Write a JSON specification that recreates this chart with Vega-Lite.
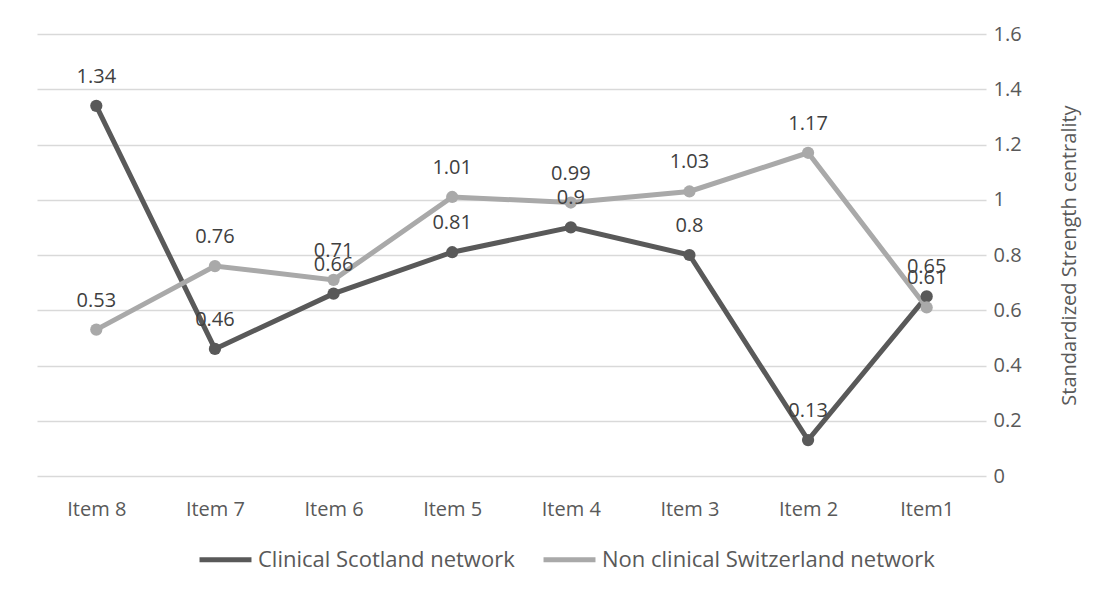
{
  "$schema": "https://vega.github.io/schema/vega-lite/v6.json",
  "autosize": {"type": "none"},
  "padding": {"left": 37, "top": 34, "right": 122, "bottom": 123},
  "width": 949,
  "height": 442,
  "background": "white",
  "data": {
    "values": [
      {"item": "Item 8", "series": "Clinical Scotland network", "value": 1.34},
      {"item": "Item 7", "series": "Clinical Scotland network", "value": 0.46},
      {"item": "Item 6", "series": "Clinical Scotland network", "value": 0.66},
      {"item": "Item 5", "series": "Clinical Scotland network", "value": 0.81},
      {"item": "Item 4", "series": "Clinical Scotland network", "value": 0.9},
      {"item": "Item 3", "series": "Clinical Scotland network", "value": 0.8},
      {"item": "Item 2", "series": "Clinical Scotland network", "value": 0.13},
      {"item": "Item1", "series": "Clinical Scotland network", "value": 0.65},
      {"item": "Item 8", "series": "Non clinical Switzerland network", "value": 0.53},
      {"item": "Item 7", "series": "Non clinical Switzerland network", "value": 0.76},
      {"item": "Item 6", "series": "Non clinical Switzerland network", "value": 0.71},
      {"item": "Item 5", "series": "Non clinical Switzerland network", "value": 1.01},
      {"item": "Item 4", "series": "Non clinical Switzerland network", "value": 0.99},
      {"item": "Item 3", "series": "Non clinical Switzerland network", "value": 1.03},
      {"item": "Item 2", "series": "Non clinical Switzerland network", "value": 1.17},
      {"item": "Item1", "series": "Non clinical Switzerland network", "value": 0.61}
    ]
  },
  "encoding": {
    "x": {
      "field": "item",
      "type": "nominal",
      "sort": null,
      "scale": {"type": "point", "padding": 0.5},
      "axis": {
        "title": null,
        "labelAngle": 0,
        "domain": false,
        "ticks": false,
        "grid": false,
        "labelPadding": 23,
        "labelFontSize": 20,
        "labelColor": "#595959"
      }
    },
    "y": {
      "field": "value",
      "type": "quantitative",
      "scale": {"domain": [0, 1.6], "nice": false},
      "axis": {
        "orient": "right",
        "values": [0, 0.2, 0.4, 0.6, 0.8, 1, 1.2, 1.4, 1.6],
        "format": "~g",
        "title": "Standardized Strength centrality",
        "titleFontSize": 20,
        "titleFontWeight": "normal",
        "titleColor": "#595959",
        "titleAngle": 270,
        "titlePadding": 58,
        "domain": false,
        "ticks": false,
        "labelPadding": 7,
        "labelFontSize": 20,
        "labelColor": "#595959",
        "gridColor": "#d9d9d9",
        "gridWidth": 1.5
      }
    },
    "color": {
      "field": "series",
      "type": "nominal",
      "scale": {
        "domain": ["Clinical Scotland network", "Non clinical Switzerland network"],
        "range": ["#595959", "#a9a9a9"]
      },
      "legend": {
        "title": null,
        "orient": "none",
        "direction": "horizontal",
        "legendX": 160,
        "legendY": 497,
        "symbolType": "stroke",
        "symbolSize": 2700,
        "symbolStrokeWidth": 5,
        "labelFontSize": 22,
        "labelColor": "#595959",
        "labelLimit": 0,
        "labelOffset": 4,
        "columnPadding": 18
      }
    }
  },
  "layer": [
    {
      "mark": {"type": "line", "strokeWidth": 5}
    },
    {
      "mark": {"type": "point", "filled": true, "size": 150, "opacity": 1}
    },
    {
      "mark": {
        "type": "text",
        "dy": -29,
        "baseline": "middle",
        "fontSize": 20,
        "color": "#404040"
      },
      "encoding": {
        "text": {"field": "value", "type": "quantitative"},
        "color": {"value": "#404040"}
      }
    }
  ],
  "config": {
    "font": "Open Sans",
    "view": {"stroke": null}
  }
}
